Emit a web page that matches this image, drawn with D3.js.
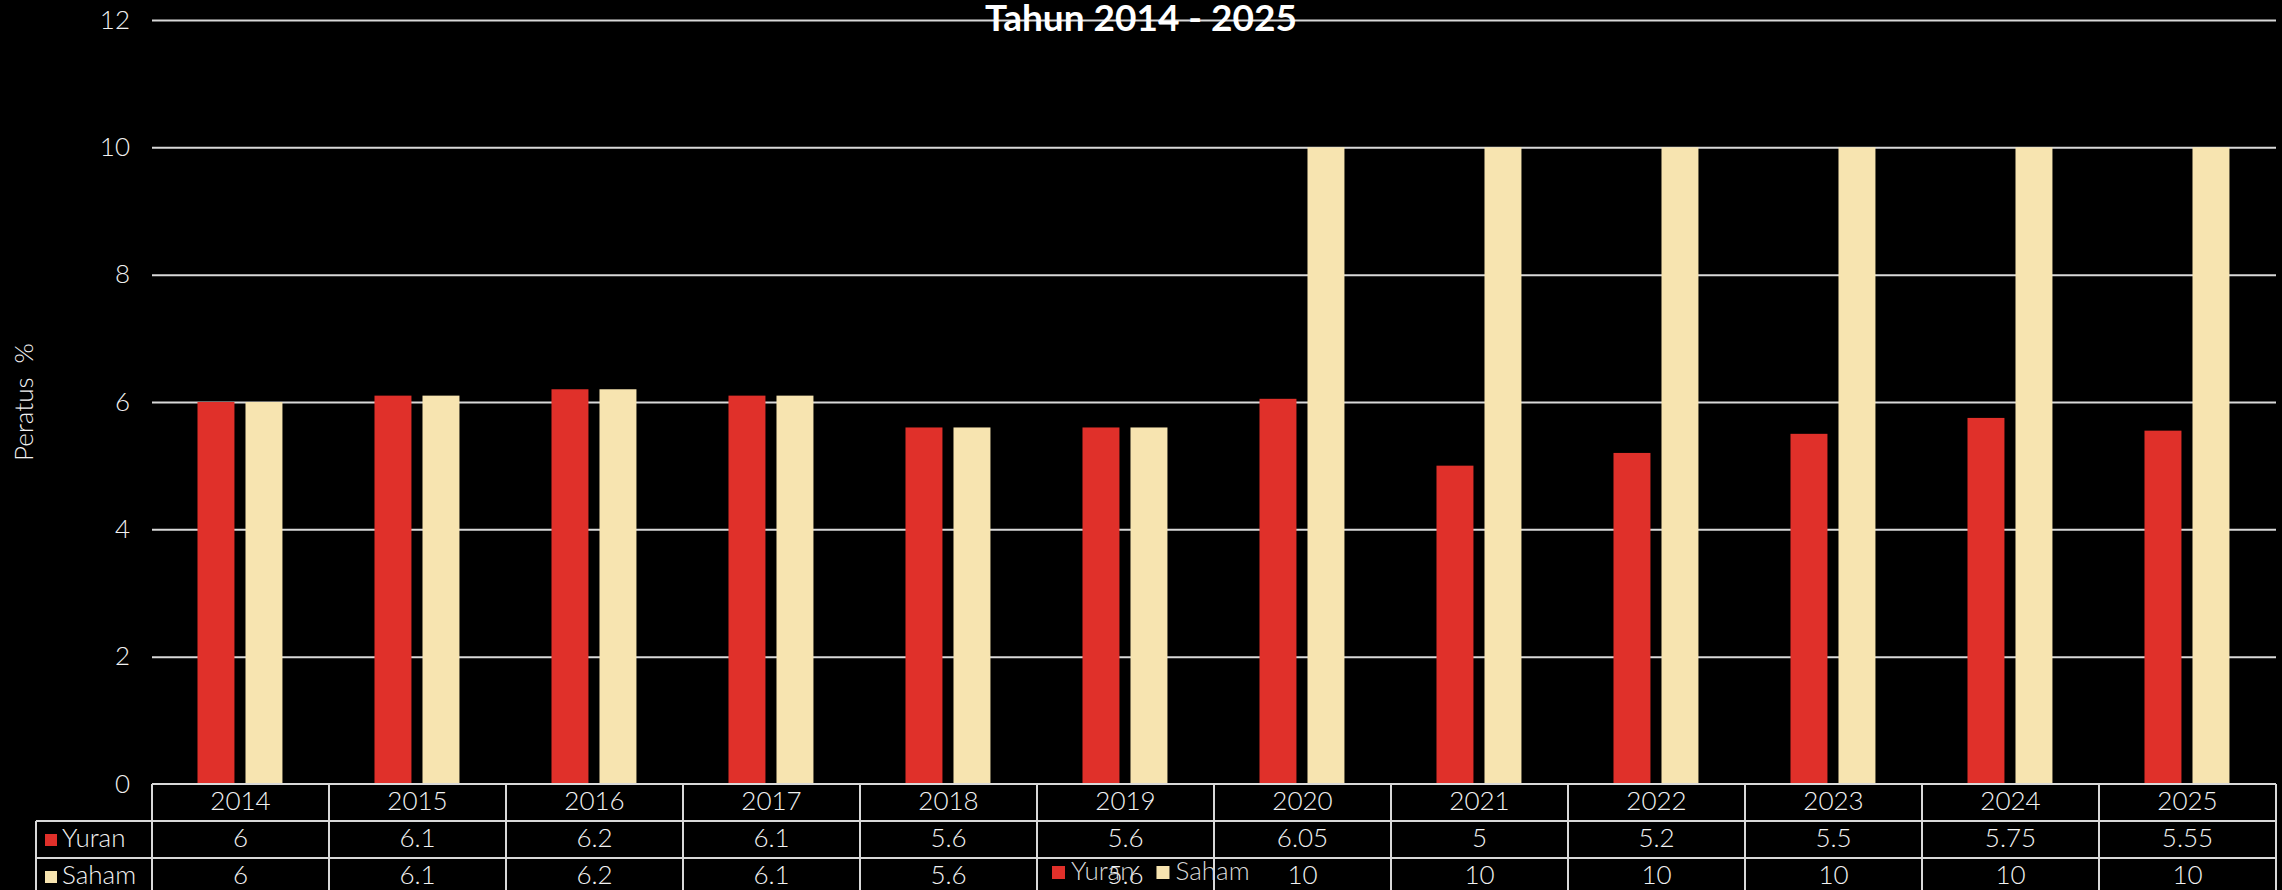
<!DOCTYPE html>
<html>
<head>
<meta charset="utf-8">
<script src="https://cdn.jsdelivr.net/npm/d3@7"></script>
<style>
    html, body { margin: 0; padding: 0; background: #000; }
    svg text { font-family: Lato, "Open Sans", sans-serif; }
</style>
</head>
<body>
<div id="chart"></div>
<script>
// Chart data
const years = ['2014', '2015', '2016', '2017', '2018', '2019', '2020', '2021', '2022', '2023', '2024', '2025'];
const seriesNames = ['Yuran', 'Saham'];
const yuran = [6, 6.1, 6.2, 6.1, 5.6, 5.6, 6.05, 5, 5.2, 5.5, 5.75, 5.55];
const saham = [6, 6.1, 6.2, 6.1, 5.6, 5.6, 10, 10, 10, 10, 10, 10];
const yTicks = [0, 2, 4, 6, 8, 10, 12];
const titleText = 'Tahun 2014 - 2025';
const yLabel = 'Peratus  %';

const seriesValues = { Yuran: yuran, Saham: saham };
const colors = { Yuran: '#e0302a', Saham: '#f7e4b0' };

const W = 2282, H = 890;
const plot = { left: 152, right: 2276, top: 20, bottom: 784 };
const rowH = 37;
const fontSize = '26px';

const svg = d3.select('#chart')
    .append('svg')
    .attr('width', W)
    .attr('height', H)
    .style('display', 'block');

svg.append('rect').attr('width', W).attr('height', H).attr('fill', '#000');

// Scales
const x = d3.scaleBand()
    .domain(years)
    .range([plot.left, plot.right])
    .padding(0);

const bw = x.bandwidth();
const xSub = d3.scaleBand()
    .domain(seriesNames)
    .range([0.257 * bw, 0.737 * bw])
    .paddingInner(0.23);

const y = d3.scaleLinear()
    .domain([0, 12])
    .range([plot.bottom, plot.top]);

// Gridlines
svg.append('g')
    .attr('class', 'grid')
    .attr('transform', `translate(${plot.left},0)`)
    .call(d3.axisLeft(y)
        .tickValues(yTicks.filter(d => d > 0))
        .tickSize(-(plot.right - plot.left))
        .tickFormat(''))
    .call(g => g.select('.domain').remove())
    .call(g => g.selectAll('line').attr('stroke', '#d9d9d9').attr('stroke-width', 2));

// Y tick labels
svg.append('g')
    .attr('transform', `translate(${plot.left - 22},0)`)
    .call(d3.axisLeft(y).tickValues(yTicks).tickSize(0).tickPadding(0))
    .call(g => g.select('.domain').remove())
    .call(g => g.selectAll('text')
        .attr('fill', '#f2f2f2')
        .style('font-size', fontSize)
        .style('font-weight', 300));

// Bars
seriesNames.forEach(name => {
    svg.append('g')
        .selectAll('rect')
        .data(years.map((yr, i) => ({ year: yr, value: seriesValues[name][i] })))
        .enter()
        .append('rect')
        .attr('x', d => x(d.year) + xSub(name))
        .attr('y', d => y(d.value))
        .attr('width', xSub.bandwidth())
        .attr('height', d => y(0) - y(d.value))
        .attr('fill', colors[name]);
});

// Title
svg.append('text')
    .attr('x', W / 2)
    .attr('y', 31)
    .attr('text-anchor', 'middle')
    .attr('fill', '#fff')
    .style('font-size', '37px')
    .style('font-weight', 'bold')
    .text(titleText);

// Y axis label
svg.append('text')
    .attr('transform', `translate(33,${(plot.top + plot.bottom) / 2}) rotate(-90)`)
    .attr('text-anchor', 'middle')
    .attr('fill', '#f2f2f2')
    .style('font-size', fontSize)
    .style('font-weight', 300)
    .style('white-space', 'pre')
    .text(yLabel);

// Data table
const table = svg.append('g').attr('class', 'data-table');
const lineColor = '#d9d9d9';
const legendLeft = 36;
const rowTops = [plot.bottom, plot.bottom + rowH, plot.bottom + 2 * rowH, plot.bottom + 3 * rowH];

// horizontal lines
table.append('line')
    .attr('x1', plot.left).attr('x2', plot.right)
    .attr('y1', rowTops[0]).attr('y2', rowTops[0])
    .attr('stroke', lineColor).attr('stroke-width', 2);
[1, 2, 3].forEach(r => {
    table.append('line')
        .attr('x1', legendLeft).attr('x2', plot.right)
        .attr('y1', rowTops[r]).attr('y2', rowTops[r])
        .attr('stroke', lineColor).attr('stroke-width', 2);
});

// vertical lines
const colEdges = years.map(d => x(d)).concat([plot.right]);
colEdges.forEach(cx => {
    table.append('line')
        .attr('x1', cx).attr('x2', cx)
        .attr('y1', rowTops[0]).attr('y2', rowTops[3])
        .attr('stroke', lineColor).attr('stroke-width', 2);
});
table.append('line')
    .attr('x1', legendLeft).attr('x2', legendLeft)
    .attr('y1', rowTops[1]).attr('y2', rowTops[3])
    .attr('stroke', lineColor).attr('stroke-width', 2);

// header row
table.selectAll('.hdr')
    .data(years)
    .enter()
    .append('text')
    .attr('x', d => x(d) + bw / 2)
    .attr('y', rowTops[0] + 26)
    .attr('text-anchor', 'middle')
    .attr('fill', '#f2f2f2')
    .style('font-size', fontSize)
    .style('font-weight', 300)
    .text(d => d);

// value rows
seriesNames.forEach((name, r) => {
    const top = rowTops[r + 1];
    table.append('rect')
        .attr('x', legendLeft + 9)
        .attr('y', top + 13)
        .attr('width', 12)
        .attr('height', 12)
        .attr('fill', colors[name]);
    table.append('text')
        .attr('x', legendLeft + 26)
        .attr('y', top + 26)
        .attr('fill', '#f2f2f2')
        .style('font-size', fontSize)
        .style('font-weight', 300)
        .text(name);
    table.selectAll(`.val-${name}`)
        .data(years.map((yr, i) => ({ year: yr, value: seriesValues[name][i] })))
        .enter()
        .append('text')
        .attr('x', d => x(d.year) + bw / 2)
        .attr('y', top + 26)
        .attr('text-anchor', 'middle')
        .attr('fill', '#f2f2f2')
        .style('font-size', fontSize)
        .style('font-weight', 300)
        .text(d => d.value);
});

// Overlay legend
const legend = svg.append('g').attr('transform', 'translate(1052,866)');
let lx = 0;
seriesNames.forEach(name => {
    legend.append('rect')
        .attr('x', lx).attr('y', 0)
        .attr('width', 13).attr('height', 13)
        .attr('fill', colors[name]);
    const t = legend.append('text')
        .attr('x', lx + 19)
        .attr('y', 14)
        .attr('fill', '#d9d9d9')
        .style('font-size', fontSize)
        .style('font-weight', 300)
        .text(name);
    lx += 19 + t.node().getComputedTextLength() + 22;
});
</script>
</body>
</html>
